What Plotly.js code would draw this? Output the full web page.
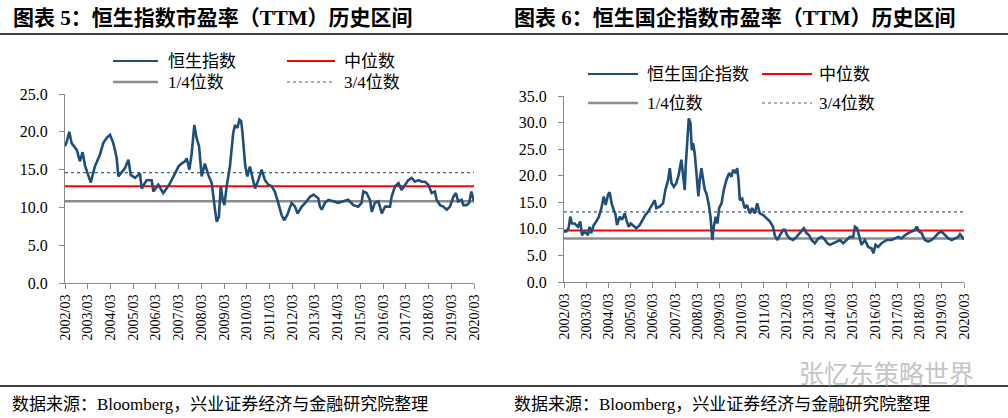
<!DOCTYPE html>
<html>
<head>
<meta charset="utf-8">
<script src="https://cdn.plot.ly/plotly-3.0.1.min.js"></script>
<style>
  body { margin: 0; background: #fff; }
  #chart { width: 1008px; height: 418px; }
</style>
</head>
<body>
<div id="chart"></div>
<script>
// 恒生指数 PE(TTM)
var hsi_dates = [
  '2002-03-01','2002-03-26','2002-05-09','2002-06-15','2002-09-06','2002-10-26','2002-12-09','2003-01-18','2003-02-23','2003-04-20',
  '2003-06-23','2003-09-15','2003-11-06','2004-01-01','2004-02-23','2004-04-15','2004-05-12','2004-06-09','2004-07-06','2004-08-27',
  '2004-10-20','2004-12-15','2005-01-20','2005-04-01','2005-06-18','2005-07-15','2005-10-03','2005-12-23','2006-01-20','2006-04-09',
  '2006-06-26','2006-08-20','2006-10-15','2007-01-03','2007-02-26','2007-04-18','2007-06-12','2007-07-09','2007-08-21','2007-09-26',
  '2007-10-23','2007-11-09','2007-12-15','2008-01-24','2008-03-06','2008-04-26','2008-06-20','2008-08-15','2008-10-06','2008-11-03',
  '2008-12-09','2009-01-06','2009-02-09','2009-03-06','2009-04-12','2009-06-03','2009-07-26','2009-08-23','2009-10-01','2009-11-03',
  '2009-12-01','2009-12-23','2010-02-03','2010-03-09','2010-04-20','2010-06-15','2010-07-12','2010-09-03','2010-10-26','2010-12-18',
  '2011-02-12','2011-04-06','2011-05-26','2011-07-20','2011-09-12','2011-10-23','2011-12-12','2012-02-20','2012-04-15','2012-05-26',
  '2012-08-01','2012-10-18','2012-12-12','2013-02-06','2013-04-23','2013-05-20','2013-06-18','2013-08-09','2013-10-03','2013-12-20',
  '2014-03-12','2014-06-01','2014-08-18','2014-11-09','2015-01-26','2015-03-20','2015-04-18','2015-06-09','2015-08-03','2015-09-01',
  '2015-10-20','2015-12-15','2016-02-09','2016-04-01','2016-06-20','2016-07-15','2016-09-09','2016-11-03','2016-12-23','2017-02-18',
  '2017-04-09','2017-06-03','2017-07-26','2017-09-18','2017-11-12','2018-01-03','2018-02-26','2018-04-20','2018-06-12','2018-07-09',
  '2018-09-03','2018-10-23','2018-12-18','2019-02-09','2019-04-03','2019-05-15','2019-06-20','2019-08-15','2019-09-12','2019-11-03',
  '2019-12-15','2020-01-18','2020-02-09','2020-03-01'
]
var hsi_pe = [
  18.1, 18.6, 20.0, 18.5, 17.6, 16.1, 17.3, 15.5, 14.6, 13.3,
  15.4, 17.0, 18.5, 19.2, 19.6, 18.5, 17.6, 16.5, 14.1, 14.7,
  15.2, 16.3, 14.3, 13.9, 14.5, 12.5, 13.6, 13.6, 12.1, 13.0,
  11.9, 12.5, 13.2, 14.5, 15.4, 15.8, 16.1, 16.5, 15.0, 17.0,
  19.8, 20.9, 19.2, 18.1, 14.1, 15.8, 14.3, 13.2, 9.7, 8.1,
  8.8, 12.8, 11.0, 10.3, 12.8, 15.4, 19.8, 20.9, 20.5, 21.6,
  21.4, 19.8, 15.6, 14.1, 15.4, 13.6, 12.5, 13.6, 15.0, 13.6,
  13.0, 12.8, 12.1, 10.6, 9.0, 8.3, 9.0, 10.6, 10.1, 9.2,
  10.1, 10.8, 11.4, 11.7, 11.2, 10.1, 9.7, 10.6, 11.0, 10.8,
  10.6, 10.8, 11.0, 10.3, 10.1, 10.6, 12.1, 11.9, 11.0, 9.4,
  10.6, 10.8, 9.2, 10.1, 10.1, 11.4, 12.8, 13.2, 12.3, 13.0,
  13.6, 13.9, 13.4, 13.6, 13.4, 13.4, 13.0, 11.9, 12.1, 11.0,
  10.3, 10.1, 9.7, 10.1, 11.4, 11.9, 10.8, 11.0, 10.3, 10.3,
  10.6, 12.1, 11.2, 10.8
]
// median, 1/4, 3/4 levels
var hsi_levels = {median: 12.8, q1: 10.8, q3: 14.6}

// 恒生国企指数 PE(TTM)
var hscei_dates = [
  '2002-03-01','2002-04-08','2002-05-15','2002-06-12','2002-07-10','2002-08-22','2002-10-17','2002-11-24','2002-12-21','2003-02-05',
  '2003-03-28','2003-04-25','2003-05-22','2003-07-02','2003-08-14','2003-09-26','2003-11-06','2003-12-13','2004-01-15','2004-02-22',
  '2004-03-20','2004-04-22','2004-05-25','2004-06-22','2004-07-19','2004-09-03','2004-10-10','2004-11-23','2004-12-20','2005-01-28',
  '2005-03-02','2005-04-09','2005-06-03','2005-07-26','2005-09-10','2005-10-28','2005-12-12','2006-02-06','2006-04-01','2006-04-26',
  '2006-06-20','2006-08-15','2006-09-22','2006-11-07','2006-12-04','2007-01-01','2007-02-09','2007-03-21','2007-04-28','2007-06-12',
  '2007-07-10','2007-08-07','2007-08-22','2007-09-14','2007-10-12','2007-11-09','2007-12-01','2007-12-21','2008-01-18','2008-02-15',
  '2008-03-18','2008-04-10','2008-05-07','2008-06-05','2008-07-02','2008-07-27','2008-09-06','2008-10-03','2008-11-01','2008-11-26',
  '2008-12-28','2009-01-25','2009-02-22','2009-04-02','2009-05-09','2009-06-22','2009-08-06','2009-09-13','2009-10-10','2009-11-18',
  '2009-12-15','2010-01-07','2010-01-28','2010-03-07','2010-04-19','2010-05-26','2010-07-11','2010-08-18','2010-10-02','2010-11-09',
  '2010-12-22','2011-02-17','2011-04-11','2011-06-05','2011-07-28','2011-08-25','2011-10-05','2011-11-17','2012-01-11','2012-02-08',
  '2012-03-16','2012-04-28','2012-06-22','2012-08-17','2012-10-11','2012-12-16','2013-01-28','2013-03-13','2013-04-20','2013-06-15',
  '2013-08-09','2013-10-03','2013-11-11','2014-01-05','2014-02-17','2014-04-12','2014-06-06','2014-08-01','2014-09-24','2014-11-18',
  '2015-01-12','2015-03-07','2015-04-04','2015-05-11','2015-06-14','2015-07-21','2015-09-15','2015-11-09','2016-01-04','2016-02-01',
  '2016-03-09','2016-04-21','2016-06-15','2016-09-07','2016-11-27','2017-01-21','2017-03-16','2017-05-10','2017-07-04','2017-08-28',
  '2017-10-22','2017-12-16','2018-01-13','2018-02-25','2018-04-04','2018-05-28','2018-07-22','2018-09-16','2018-11-10','2019-01-05',
  '2019-02-28','2019-04-22','2019-06-17','2019-08-11','2019-10-05','2019-11-28','2019-12-26','2020-01-28','2020-03-01'
]
var hscei_pe = [
  9.5, 9.5, 10.1, 12.3, 11.0, 11.0, 10.4, 11.4, 8.8, 9.5,
  8.8, 10.4, 9.2, 10.7, 11.4, 12.3, 13.9, 16.1, 14.5, 16.4,
  16.9, 14.8, 13.6, 12.9, 10.7, 12.3, 11.7, 12.9, 11.7, 10.4,
  11.0, 10.7, 10.1, 10.7, 11.7, 12.6, 13.2, 14.2, 15.4, 13.9,
  14.2, 14.8, 17.3, 19.2, 21.4, 18.6, 17.9, 18.6, 20.1, 23.0,
  19.8, 17.3, 21.7, 27.0, 30.8, 29.9, 24.8, 26.1, 24.2, 20.5,
  16.1, 19.2, 21.4, 19.2, 17.3, 16.7, 14.5, 12.3, 7.9, 10.4,
  12.3, 11.0, 13.9, 14.8, 17.3, 19.2, 20.5, 19.8, 21.1, 20.5,
  21.4, 19.2, 15.4, 15.7, 13.9, 14.5, 12.9, 13.9, 12.9, 14.8,
  12.9, 12.6, 12.0, 11.4, 10.4, 8.8, 7.9, 8.8, 9.8, 9.8,
  8.8, 8.2, 7.9, 8.5, 9.2, 10.1, 9.2, 8.8, 7.9, 7.3,
  8.2, 8.5, 8.2, 7.3, 7.0, 7.3, 7.6, 7.9, 7.3, 7.9,
  8.5, 8.5, 10.4, 10.1, 8.5, 7.0, 7.9, 6.6, 6.3, 5.4,
  7.0, 6.6, 7.3, 7.9, 7.9, 8.2, 8.5, 8.2, 8.8, 9.2,
  9.5, 9.8, 10.4, 9.5, 9.2, 7.9, 7.6, 7.9, 8.5, 9.2,
  9.5, 8.8, 8.2, 7.9, 8.2, 8.5, 9.0, 8.4, 8.0
]
var hscei_levels = {median: 9.7, q1: 8.2, q3: 13.2}

var range_x = ['2002-03-01', '2020-03-01']

var navy = '#1F4E79'
var red = '#FF0000'
var grey = '#8C8C8C'
var dashblue = '#4A6283'

// flat reference line across the whole date range
function levelLine(value, color, width, dash, xa, ya) {
  return {
    x: range_x, y: [value, value], xaxis: xa, yaxis: ya,
    type: 'scatter', mode: 'lines', hoverinfo: 'skip', showlegend: false,
    line: {color: color, width: width, dash: dash}
  }
}

var data = [
  levelLine(hsi_levels.q3, dashblue, 1.3, 'dot', 'x', 'y'),
  levelLine(hsi_levels.q1, grey, 2.5, 'solid', 'x', 'y'),
  levelLine(hsi_levels.median, red, 2, 'solid', 'x', 'y'),
  {
    x: hsi_dates, y: hsi_pe, xaxis: 'x', yaxis: 'y',
    type: 'scatter', mode: 'lines', showlegend: false,
    line: {color: navy, width: 2.6}
  },
  levelLine(hscei_levels.q3, dashblue, 1.3, 'dot', 'x2', 'y2'),
  levelLine(hscei_levels.q1, grey, 2.5, 'solid', 'x2', 'y2'),
  levelLine(hscei_levels.median, red, 2, 'solid', 'x2', 'y2'),
  {
    x: hscei_dates, y: hscei_pe, xaxis: 'x2', yaxis: 'y2',
    type: 'scatter', mode: 'lines', showlegend: false,
    line: {color: navy, width: 2.6}
  }
]

var serif = 'Liberation Serif, Times New Roman, serif'
var cjk = 'Liberation Serif, Noto Sans CJK SC, serif'

function xAxis(domain, anchor) {
  return {
    domain: domain, anchor: anchor, type: 'date', range: range_x,
    tick0: '2002-03-01', dtick: 'M12', tickformat: '%Y/%m', tickangle: -90,
    ticks: 'outside', ticklen: 5, tickcolor: '#888', showline: true, linecolor: '#888', linewidth: 1,
    showgrid: false, zeroline: false, fixedrange: true,
    tickfont: {family: serif, size: 14, color: '#000'}
  }
}
function yAxis(domain, anchor, top) {
  return {
    domain: domain, anchor: anchor, range: [0, top], dtick: 5, tickformat: '.1f',
    ticks: 'outside', ticklen: 5, tickcolor: '#888', showline: true, linecolor: '#888', linewidth: 1,
    showgrid: false, zeroline: false, fixedrange: true, ticklabelstandoff: 8,
    tickfont: {family: serif, size: 16, color: '#000'}
  }
}

// pixel helpers, margins are zero so paper == picture
function px(x) { return x / 1008 }
function py(y) { return 1 - y / 418 }

var shapes = []
var annotations = []

function legendItem(x0, x1, tx, y, color, width, dash, label) {
  shapes.push({type: 'line', xref: 'paper', yref: 'paper', x0: px(x0), x1: px(x1), y0: py(y), y1: py(y),
    line: {color: color, width: width, dash: dash}})
  annotations.push({xref: 'paper', yref: 'paper', x: px(tx), y: py(y), xanchor: 'left', yanchor: 'middle',
    text: label, showarrow: false, font: {family: cjk, size: 17, color: '#000'}})
}

legendItem(113, 158, 166, 61, navy, 2.2, 'solid', '恒生指数')
legendItem(287, 335, 342, 61, red, 2, 'solid', '中位数')
legendItem(113, 158, 166, 82, grey, 2.5, 'solid', '1/4位数')
legendItem(287, 335, 342, 82, dashblue, 1, 'dot', '3/4位数')

legendItem(588, 638, 645, 74, navy, 2.2, 'solid', '恒生国企指数')
legendItem(762, 812, 817, 74, red, 2, 'solid', '中位数')
legendItem(588, 638, 645, 103, grey, 2.5, 'solid', '1/4位数')
legendItem(762, 812, 817, 103, dashblue, 1, 'dot', '3/4位数')

// titles and their rule
annotations.push({xref: 'paper', yref: 'paper', x: px(11), y: py(18), xanchor: 'left', yanchor: 'middle', showarrow: false,
  text: '<b>图表 5：恒生指数市盈率（TTM）历史区间</b>', font: {family: cjk, size: 21, color: '#000'}})
annotations.push({xref: 'paper', yref: 'paper', x: px(512), y: py(18), xanchor: 'left', yanchor: 'middle', showarrow: false,
  text: '<b>图表 6：恒生国企指数市盈率（TTM）历史区间</b>', font: {family: cjk, size: 21, color: '#000'}})
shapes.push({type: 'line', xref: 'paper', yref: 'paper', x0: 0, x1: 1, y0: py(34), y1: py(34), line: {color: '#000', width: 1.5}})

// source notes
shapes.push({type: 'line', xref: 'paper', yref: 'paper', x0: 0, x1: 1, y0: py(386), y1: py(386), line: {color: '#000', width: 1.5}})
annotations.push({xref: 'paper', yref: 'paper', x: px(10), y: py(404), xanchor: 'left', yanchor: 'middle', showarrow: false,
  text: '数据来源：Bloomberg，兴业证券经济与金融研究院整理', font: {family: cjk, size: 17, color: '#000'}})
annotations.push({xref: 'paper', yref: 'paper', x: px(512), y: py(404), xanchor: 'left', yanchor: 'middle', showarrow: false,
  text: '数据来源：Bloomberg，兴业证券经济与金融研究院整理', font: {family: cjk, size: 17, color: '#000'}})
annotations.push({xref: 'paper', yref: 'paper', x: px(976), y: py(372), xanchor: 'right', yanchor: 'middle', showarrow: false,
  text: '张忆东策略世界', font: {family: 'Noto Sans CJK SC, sans-serif', size: 25, color: '#C4C4C4'}})

var layout = {
  width: 1008,
  height: 418,
  margin: {l: 0, r: 0, t: 0, b: 0},
  paper_bgcolor: '#fff',
  plot_bgcolor: '#fff',
  showlegend: false,
  xaxis: xAxis([px(65), px(474)], 'y'),
  yaxis: yAxis([py(283), py(94)], 'x', 25),
  xaxis2: xAxis([px(564), px(964)], 'y2'),
  yaxis2: yAxis([py(282), py(96)], 'x2', 35),
  shapes: shapes,
  annotations: annotations
}

Plotly.newPlot('chart', data, layout, {staticPlot: true})
</script>
</body>
</html>
